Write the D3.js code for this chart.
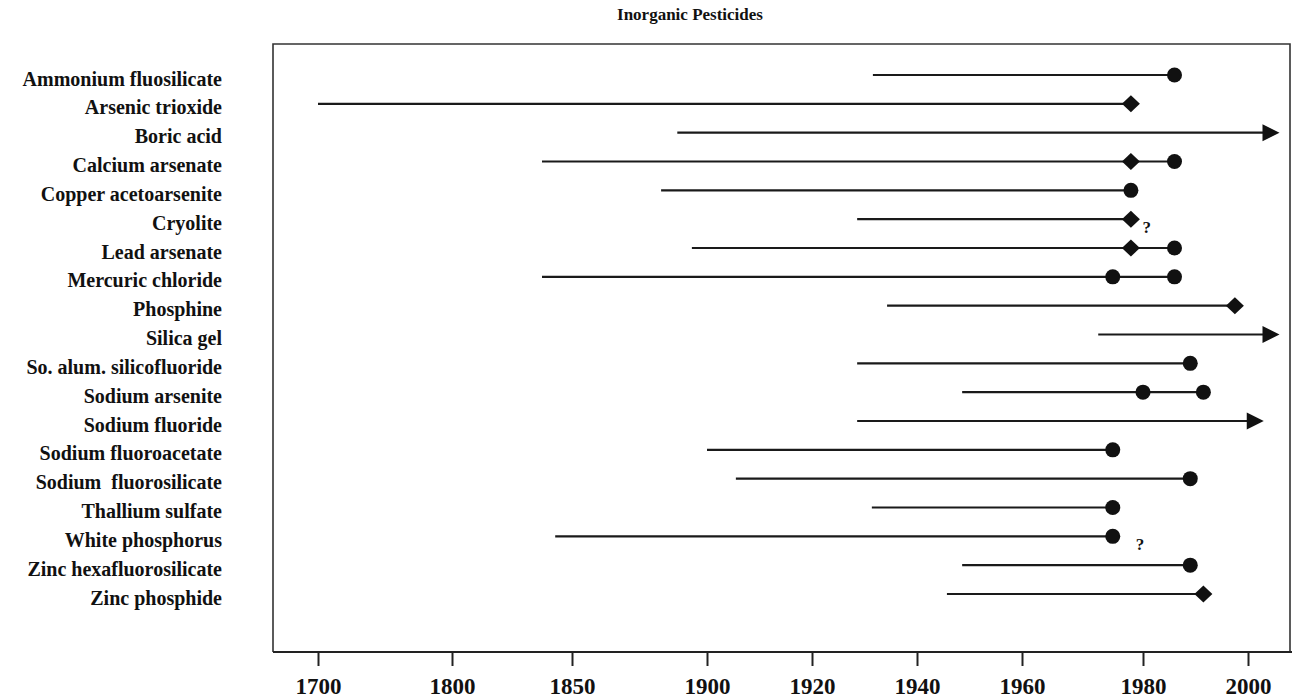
<!DOCTYPE html>
<html>
<head>
<meta charset="utf-8">
<script src="https://cdn.jsdelivr.net/npm/d3@7"></script>
<style>
  html, body { margin: 0; padding: 0; background: #fff; }
  svg { display: block; }
  text { font-family: "Liberation Serif", "Times New Roman", serif; font-weight: bold; fill: #111; }
</style>
</head>
<body>
<svg id="chart" width="1292" height="700"></svg>
<script>
// ---------- data ----------
const chartTitle = "Inorganic Pesticides";
const substances = [
  "Ammonium fluosilicate", "Arsenic trioxide", "Boric acid", "Calcium arsenate",
  "Copper acetoarsenite", "Cryolite", "Lead arsenate", "Mercuric chloride",
  "Phosphine", "Silica gel", "So. alum. silicofluoride", "Sodium arsenite",
  "Sodium fluoride", "Sodium fluoroacetate", "Sodium  fluorosilicate", "Thallium sulfate",
  "White phosphorus", "Zinc hexafluorosilicate", "Zinc phosphide"
];
const startYears = [
  1931.6, 1700, 1889, 1837.5,
  1883, 1928.6, 1894.4, 1837.5,
  1934.3, 1972.6, 1928.6, 1948.6,
  1928.6, 1900, 1905.5, 1931.4,
  1843, 1948.6, 1945.7
];
// diamond marker year (null = none)
const diamondYears = [
  null, 1978, null, 1978,
  null, 1978, 1978, null,
  1997.5, null, null, null,
  null, null, null, null,
  null, null, 1991.5
];
// circle marker years
const circleYears = [
  [1986], [], [], [1986],
  [1978], [], [1986], [1975, 1986],
  [], [], [1989], [1980, 1991.5],
  [], [1975], [1989], [1975],
  [1975], [1989], []
];
// arrow (still in use) end year (null = none)
const arrowYears = [
  null, null, 2006, null,
  null, null, null, null,
  null, 2006, null, null,
  2003, null, null, null,
  null, null, null
];
// uncertain-date annotations ("?" placed at these years)
const queryRows = ["Cryolite", "White phosphorus"];
const queryYears = [1980.7, 1979.5];
// x-axis tick labels
const xTicks = [1700, 1800, 1850, 1900, 1920, 1940, 1960, 1980, 2000];

// ---------- layout ----------
const frame = { left: 273, right: 1290, top: 44, bottom: 652 };
const tickPx = [318, 452, 572, 707, 812, 917, 1022, 1143, 1248]; // the printed axis is non-uniform
const labelRight = 222;

const svg = d3.select("#chart");

const x = d3.scaleLinear().domain(xTicks).range(tickPx);
const y = d3.scalePoint().domain(substances).range([75, 594]);

// title
svg.append("text")
  .attr("x", 690).attr("y", 20)
  .attr("text-anchor", "middle")
  .style("font-size", "17px")
  .text(chartTitle);

// frame
svg.append("path")
  .attr("d", `M${frame.left},${frame.bottom}V${frame.top}H${frame.right}V${frame.bottom}`)
  .attr("fill", "none").attr("stroke", "#333").attr("stroke-width", 1.6);
svg.append("line")
  .attr("x1", frame.left).attr("x2", 1292)
  .attr("y1", frame.bottom).attr("y2", frame.bottom)
  .attr("stroke", "#222").attr("stroke-width", 2);

// x axis
const xAxis = svg.append("g")
  .attr("transform", `translate(0,${frame.bottom})`)
  .call(d3.axisBottom(x).tickValues(xTicks).tickFormat(d3.format("d")).tickSize(14).tickSizeOuter(0).tickPadding(12));
xAxis.select(".domain").remove();
xAxis.selectAll(".tick line").attr("stroke", "#222").attr("stroke-width", 2);
xAxis.selectAll(".tick text")
  .style("font-size", "23px").style("font-family", "'Liberation Serif', serif")
  .style("font-weight", "bold").attr("fill", "#111");

// y labels
const yAxis = svg.append("g")
  .attr("transform", `translate(${labelRight},0)`)
  .call(d3.axisLeft(y).tickSize(0).tickPadding(0));
yAxis.select(".domain").remove();
yAxis.selectAll(".tick text")
  .attr("dy", "0.5em")
  .style("font-size", "20px").style("font-family", "'Liberation Serif', serif")
  .style("font-weight", "bold").attr("fill", "#111")
  .style("white-space", "pre");

// rows
const rows = substances.map((name, i) => {
  const ends = [];
  if (diamondYears[i] != null) ends.push(diamondYears[i]);
  circleYears[i].forEach(c => ends.push(c));
  if (arrowYears[i] != null) ends.push(arrowYears[i]);
  return { name, start: startYears[i], end: d3.max(ends), diamond: diamondYears[i], circles: circleYears[i], arrow: arrowYears[i] };
});

const g = svg.append("g");
const arrowLen = 17, arrowHalf = 8.5;

// lines
g.selectAll("line.span").data(rows).join("line")
  .attr("class", "span")
  .attr("x1", d => x(d.start))
  .attr("x2", d => d.arrow != null ? x(d.arrow) - arrowLen + 1 : x(d.end))
  .attr("y1", d => y(d.name)).attr("y2", d => y(d.name))
  .attr("stroke", "#1a1a1a").attr("stroke-width", 2.2);

// arrow heads
g.selectAll("path.arrow").data(rows.filter(d => d.arrow != null)).join("path")
  .attr("class", "arrow")
  .attr("d", d => {
    const tx = x(d.arrow), ty = y(d.name);
    return `M${tx},${ty}L${tx - arrowLen},${ty - arrowHalf}L${tx - arrowLen},${ty + arrowHalf}Z`;
  })
  .attr("fill", "#111");

// diamonds
g.selectAll("path.diamond").data(rows.filter(d => d.diamond != null)).join("path")
  .attr("class", "diamond")
  .attr("d", d => {
    const cx = x(d.diamond), cy = y(d.name), w = 9, h = 8.5;
    return `M${cx},${cy - h}L${cx + w},${cy}L${cx},${cy + h}L${cx - w},${cy}Z`;
  })
  .attr("fill", "#111");

// circles
const circ = rows.flatMap(d => d.circles.map(c => ({ name: d.name, year: c })));
g.selectAll("circle.pt").data(circ).join("circle")
  .attr("class", "pt")
  .attr("cx", d => x(d.year)).attr("cy", d => y(d.name))
  .attr("r", 7.5).attr("fill", "#111");

// question marks
g.selectAll("text.q").data(queryRows.map((r, i) => ({ name: r, year: queryYears[i] }))).join("text")
  .attr("class", "q")
  .attr("x", d => x(d.year)).attr("y", d => y(d.name) + 14)
  .attr("text-anchor", "middle")
  .style("font-size", "17px")
  .text("?");
</script>
</body>
</html>
